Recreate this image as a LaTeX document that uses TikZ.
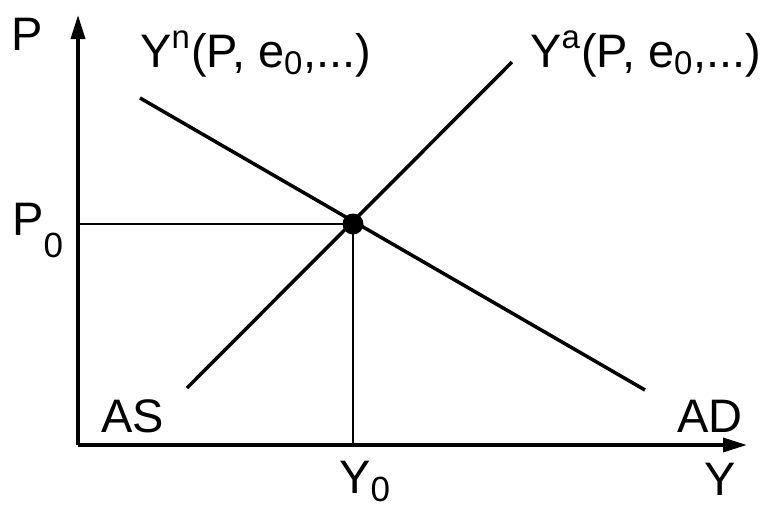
\documentclass[tikz,border=0pt]{standalone}
\usepackage{fontspec}
\setmainfont{Liberation Sans}
\usetikzlibrary{arrows.meta, positioning}

\begin{document}
\begin{tikzpicture}[x=0.5pt, y=0.5pt, >={Triangle[length=12pt, width=7pt]}, font=\fontsize{23.5}{27}\selectfont]
    % Styles
    \tikzstyle{axis} = [line width=1.75pt]
    \tikzstyle{curve} = [line width=1.75pt]
    \tikzstyle{guide} = [line width=0.65pt]
    \tikzstyle{lbl} = [inner sep=0pt, anchor=base west]
    \tikzstyle{eqpt} = [circle, fill=black, inner sep=0pt, minimum size=10.5pt]

    \useasboundingbox (0,0) rectangle (768,511);

    % Coordinates
    \coordinate (origin) at (78,66);
    \coordinate (ytop) at (78,496);
    \coordinate (xend) at (747,66);
    \coordinate (adtop) at (140,413);
    \coordinate (adbot) at (645,121);
    \coordinate (asbot) at (187,123);
    \coordinate (astop) at (512,449);

    % Nodes
    \node (eq) [eqpt] at (353,287) {};
    \node (plab) [lbl] at (11,461) {P};
    \node (ylab) [inner sep=0pt, anchor=base] at (720,16) {Y};
    \node (p0) [lbl] at (12,276) {P\raisebox{-11pt}{\fontsize{17.5}{20}\selectfont 0}};
    \node (y0) [lbl] at (339,18) {Y\raisebox{-4pt}{\fontsize{17.5}{20}\selectfont 0}};
    \node (yn) [lbl] at (140,444) {Y\textsuperscript{n}(P, e\textsubscript{0},...)};
    \node (ya) [lbl] at (530,444) {Y\textsuperscript{a}(P, e\textsubscript{0},...)};
    \node (as) [lbl] at (101,79) {AS};
    \node (ad) [lbl] at (677,79) {AD};

    % Axes
    \draw [axis, ->] (origin) -- (ytop);
    \draw [axis, ->] (origin) -- (xend);

    % Guide lines to the equilibrium
    \draw [guide] (origin |- eq.center) -- (eq.center);
    \draw [guide] (eq.center) -- (eq.center |- origin);

    % Curves
    \draw [curve] (adtop) -- (adbot);
    \draw [curve] (asbot) -- (astop);

\end{tikzpicture}
\end{document}
